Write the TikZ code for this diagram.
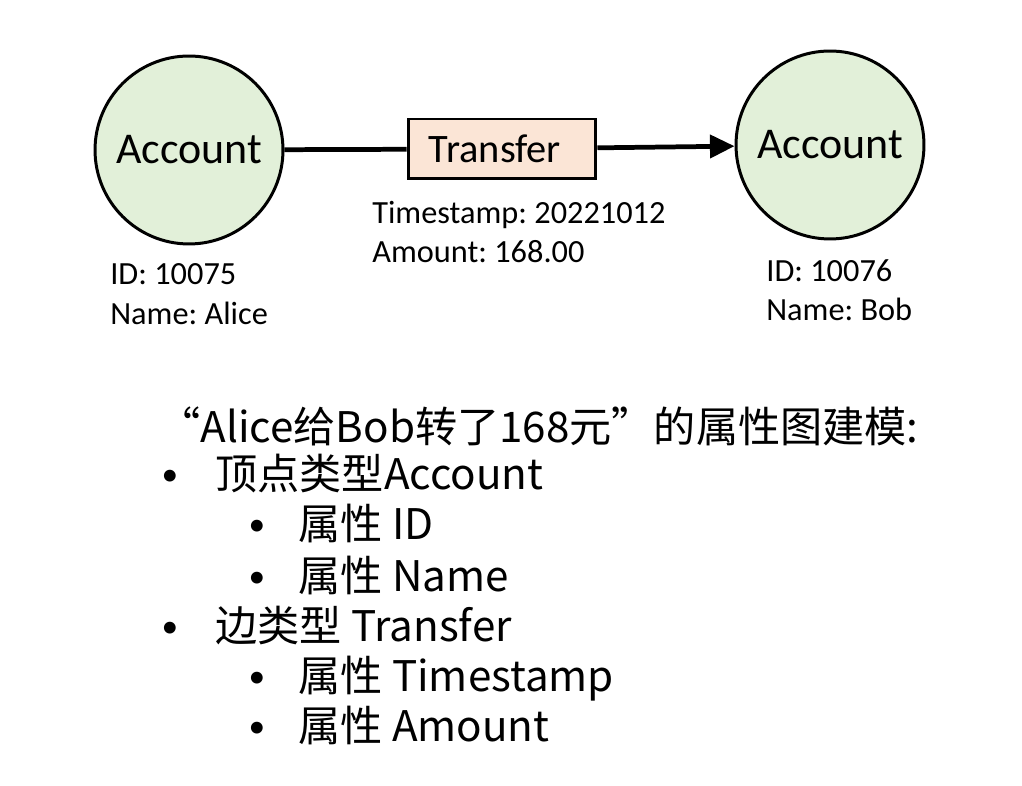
\documentclass[tikz,border=0pt]{standalone}
\usepackage{fontspec}
\setmainfont{Carlito}
\newfontfamily\cjk{Noto Sans CJK SC}
\usetikzlibrary{arrows.meta}
\definecolor{acctgreen}{RGB}{226,240,217}
\definecolor{xferpink}{RGB}{251,229,214}
\frenchspacing

\tikzset{
  account/.style={circle,draw,line width=1.7pt,fill=acctgreen,inner sep=0pt,
    minimum size=3.76cm,font=\fontsize{25}{30}\selectfont},
  edgebox/.style={rectangle,draw,line width=1.7pt,fill=xferpink,inner sep=0pt,
    minimum width=3.76cm,minimum height=1.2cm,font=\fontsize{23}{28}\selectfont},
  prop/.style={anchor=base west,inner sep=0pt,font=\fontsize{18.4}{22}\selectfont},
  item/.style={anchor=base west,inner sep=0pt,font=\cjk\fontsize{24}{28}\selectfont},
  dot/.style={anchor=base,inner sep=0pt,font=\fontsize{19}{22}\selectfont},
  link/.style={line width=2.7pt}
}

\begin{document}
\begin{tikzpicture}[x=0.02cm,y=-0.02cm]
    \useasboundingbox (0,0) rectangle (1022,786);
    \begin{scope}
        % graph
        \node[account] (acctA) at (189,150) {Account};
        \node[account] (acctB) at (830,145) {Account};
        \node[edgebox] (xfer) at (502,149) {Transfer\hspace*{8pt}};
        \draw[link] (acctA) -- (xfer);
        \draw[link,-{Triangle[length=14pt,width=13pt]}] (xfer) -- (acctB);
        % properties
        \node[prop] (idA) at (110,285) {ID: 10075};
        \node[prop] (nameA) at (110,325) {Name: Alice};
        \node[prop] (ts) at (372,224) {Timestamp: 20221012};
        \node[prop] (amt) at (372,263) {Amount: 168.00};
        \node[prop] (idB) at (766,282) {ID: 10076};
        \node[prop] (nameB) at (766,321) {Name: Bob};
    \end{scope}
    \begin{scope}
        % list
        \node[item] (title) at (158,443) {“Alice给Bob转了168元”的属性图建模:};
        \node[dot] (b1) at (170,486) {•};
        \node[item] (vtype) at (215,490) {顶点类型Account};
        \node[dot] (b2) at (257,536) {•};
        \node[item] (pid) at (298,540) {属性 ID};
        \node[dot] (b3) at (257,588) {•};
        \node[item] (pname) at (298,592) {属性 Name};
        \node[dot] (b4) at (170,638) {•};
        \node[item] (etype) at (215,642) {边类型 Transfer};
        \node[dot] (b5) at (257,688) {•};
        \node[item] (pts) at (298,692) {属性 Timestamp};
        \node[dot] (b6) at (257,738) {•};
        \node[item] (pamt) at (298,742) {属性 Amount};
    \end{scope}
\end{tikzpicture}
\end{document}
